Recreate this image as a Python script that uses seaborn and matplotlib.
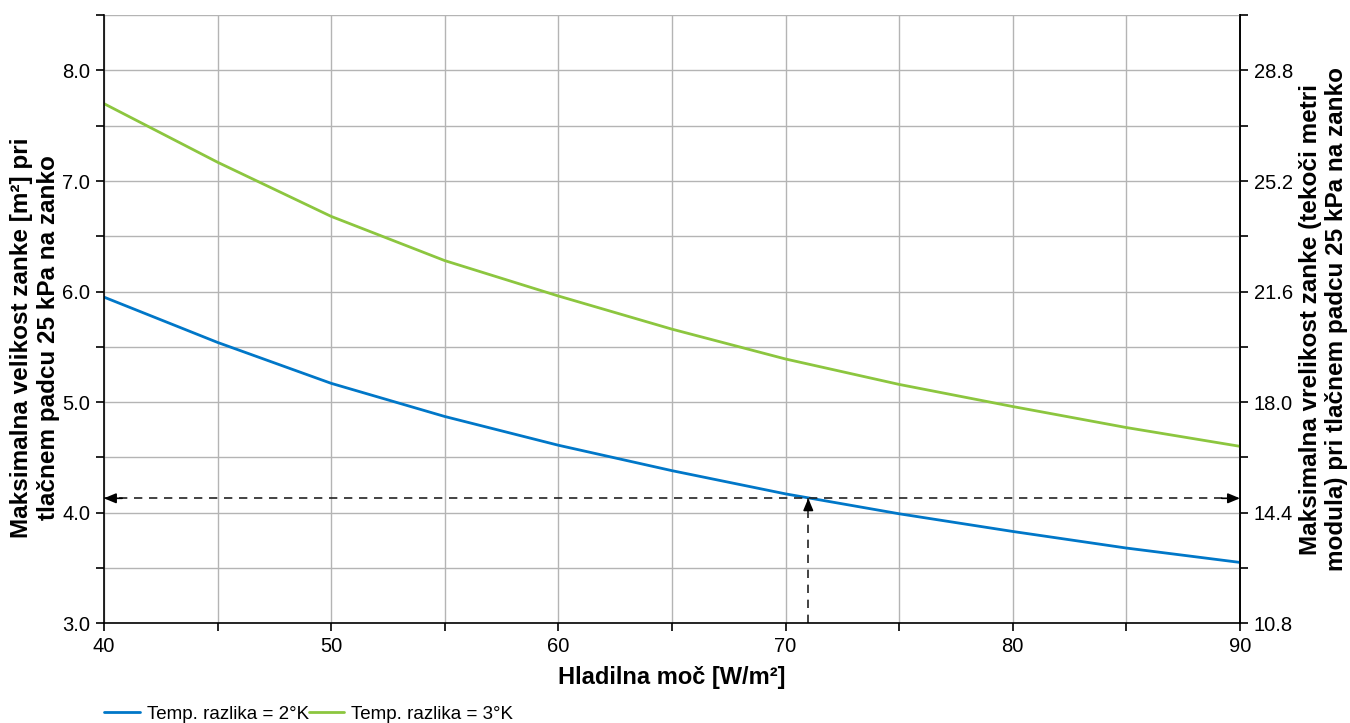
import numpy as np
import pandas as pd
import matplotlib
matplotlib.use("Agg")
import matplotlib.pyplot as plt
import seaborn as sns

# values
power = [40, 45, 50, 55, 60, 65, 70, 75, 80, 85, 90]
dt2 = [5.95, 5.54, 5.17, 4.87, 4.61, 4.38, 4.17, 3.99, 3.83, 3.68, 3.55]
dt3 = [7.70, 7.17, 6.68, 6.28, 5.96, 5.66, 5.39, 5.16, 4.96, 4.77, 4.60]
series_names = ["Temp. razlika = 2°K", "Temp. razlika = 3°K"]
series_colors = ["#0077c8", "#8cc63f"]

# reading example shown with arrows
example_power = 71.0
example_size = 4.13
m_per_m2 = 3.6  # right axis factor

df = pd.DataFrame({
    "power": power * 2,
    "size": dt2 + dt3,
    "serija": [series_names[0]] * len(power) + [series_names[1]] * len(power),
})

sns.set_theme(style="white")
plt.rcParams["font.family"] = ["Liberation Sans", "DejaVu Sans"]
plt.rcParams["text.color"] = "black"
plt.rcParams["axes.labelcolor"] = "black"
plt.rcParams["xtick.color"] = "black"
plt.rcParams["ytick.color"] = "black"

fig = plt.figure(figsize=(13.5, 7.23), dpi=100)
ax = fig.add_axes([0.077, 0.138, 0.8415, 0.841])

sns.lineplot(data=df, x="power", y="size", hue="serija", palette=series_colors,
             linewidth=2.0, ax=ax, legend=True)

ax.set_xlim(40, 90)
ax.set_ylim(3.0, 8.5)

ax.set_xticks(np.arange(40, 91, 5))
ax.set_xticklabels([str(v) if v % 10 == 0 else "" for v in range(40, 91, 5)])
yt = np.arange(3.0, 8.51, 0.5)
ax.set_yticks(yt)
ax.set_yticklabels(["%.1f" % v if abs(v - round(v)) < 1e-6 else "" for v in yt])
ax.grid(True, color="#b4b4b4", linewidth=1.0)
ax.tick_params(axis="both", which="major", direction="out", length=6, width=1.2,
               color="black", labelsize=14.5, left=True, bottom=True, pad=4)

for s in ["left", "bottom", "right"]:
    ax.spines[s].set_color("black")
    ax.spines[s].set_linewidth(1.2)
ax.spines["top"].set_visible(False)

ax.set_xlabel("Hladilna moč [W/m²]", fontsize=17, fontweight="bold", labelpad=7)
ax.set_ylabel("Maksimalna velikost zanke [m²] pri\ntlačnem padcu 25 kPa na zanko",
              fontsize=17.5, fontweight="bold")
ax.yaxis.set_label_coords(-0.039, 0.47)

sec = ax.secondary_yaxis("right", functions=(lambda y: y * m_per_m2, lambda y: y / m_per_m2))
rt = yt * m_per_m2
sec.set_yticks(rt)
sec.set_yticklabels(["%.1f" % v if i % 2 == 0 else "" for i, v in enumerate(rt)])
sec.tick_params(direction="out", length=6, width=1.2, color="black", labelsize=14.5, pad=4)
sec.spines["right"].set_color("black")
sec.spines["right"].set_linewidth(1.2)
sec.set_ylabel("Maksimalna vrelikost zanke (tekoči metri\nmodula) pri tlačnem padcu 25 kPa na zanko",
               fontsize=17.5, fontweight="bold", labelpad=4)

# dashed reading lines with arrow heads
ax.plot([40, 90], [example_size, example_size], color="#222222", lw=1.2, ls=(0, (5, 4)))
ax.plot([example_power, example_power], [3.0, example_size], color="#222222", lw=1.2, ls=(0, (5, 4)))
head = dict(arrowstyle="-|>,head_length=0.6,head_width=0.25", color="black", lw=1.2,
            shrinkA=0, shrinkB=0)
ax.annotate("", xy=(40, example_size), xytext=(40.8, example_size), arrowprops=head)
ax.annotate("", xy=(90, example_size), xytext=(89.2, example_size), arrowprops=head)
ax.annotate("", xy=(example_power, example_size), xytext=(example_power, example_size - 0.09),
            arrowprops=head)

handles, labels = ax.get_legend_handles_labels()
ax.legend_.remove()
fig.legend(handles, labels, loc="lower left", bbox_to_anchor=(0.069, -0.015), ncol=2,
           frameon=False, fontsize=13.5, handlelength=1.9, handletextpad=0.35,
           columnspacing=0.0, borderaxespad=0.2)

fig.savefig("out.png", dpi=100)
